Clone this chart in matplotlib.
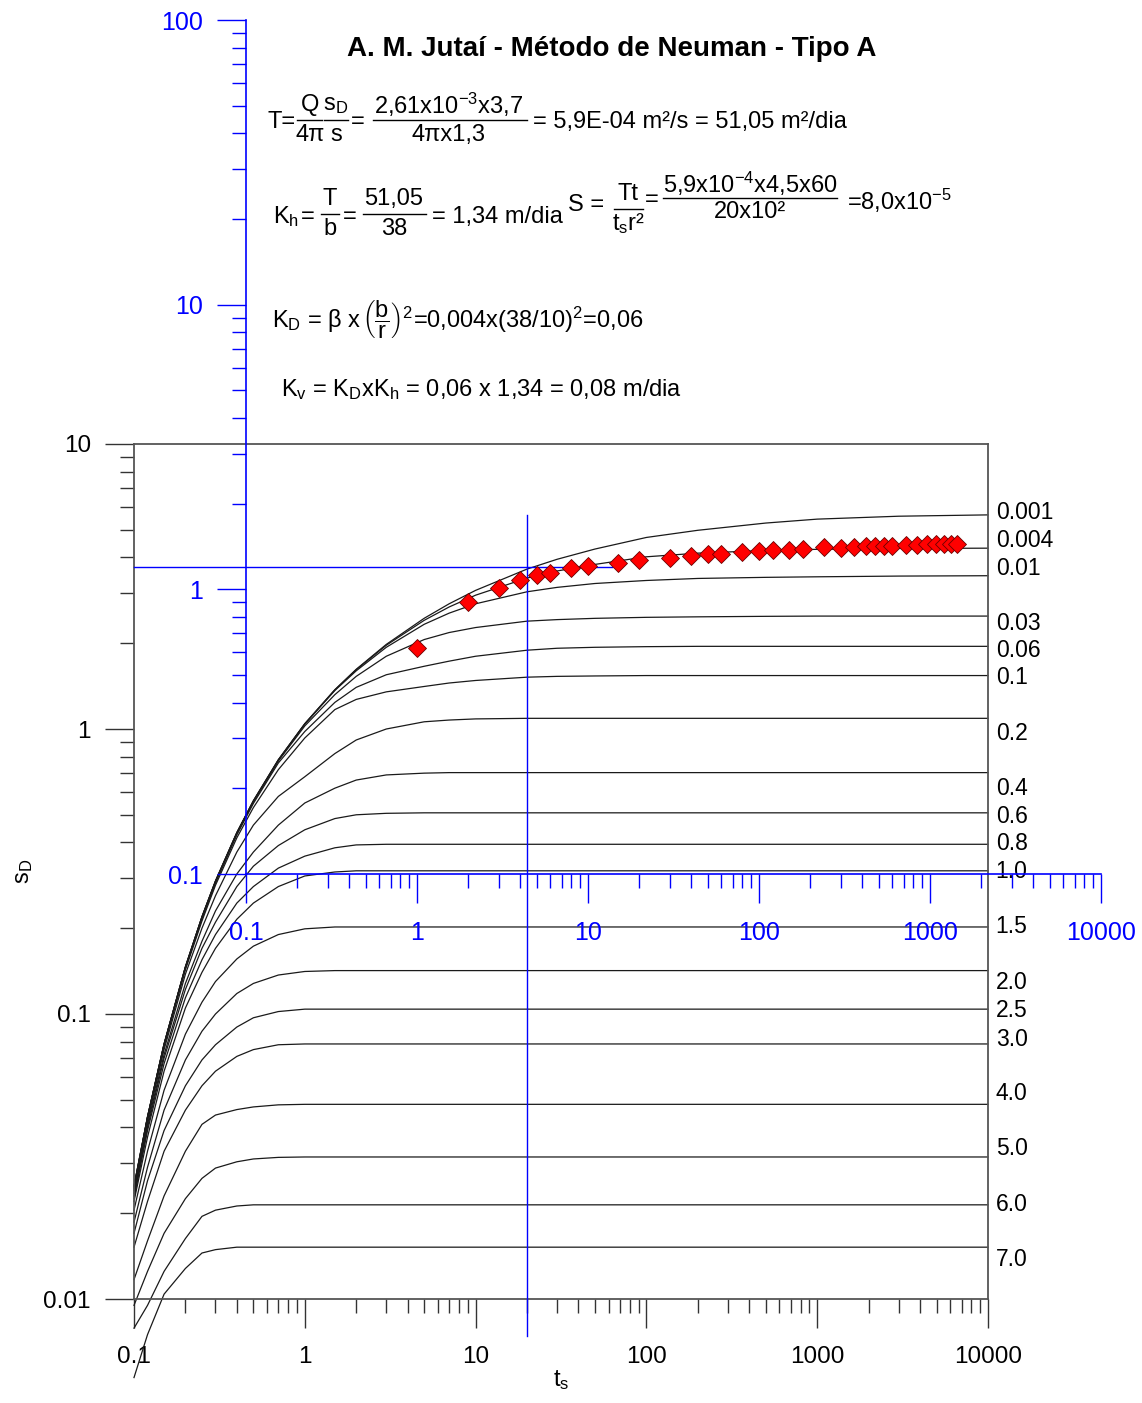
import matplotlib
matplotlib.use("Agg")
import matplotlib.pyplot as plt
from matplotlib.ticker import LogLocator, FuncFormatter, NullFormatter

plt.rcParams['font.family'] = ['Liberation Sans', 'DejaVu Sans']
plt.rcParams['mathtext.fontset'] = 'custom'
plt.rcParams['mathtext.rm'] = 'Liberation Sans'
plt.rcParams['mathtext.it'] = 'Liberation Sans:italic'
plt.rcParams['mathtext.sf'] = 'Liberation Sans'

W, H = 1142, 1403

# Neuman type A curves: dimensionless drawdown sD against ts for each beta
ts_grid = [0.1, 0.12, 0.15, 0.2, 0.25, 0.3, 0.4, 0.5, 0.7, 1, 1.5, 2, 3, 5, 7, 10,
           20, 30, 50, 100, 200, 500, 1000, 3000, 10000]
beta_labels = ['0.001', '0.004', '0.01', '0.03', '0.06', '0.1', '0.2', '0.4', '0.6',
               '0.8', '1.0', '1.5', '2.0', '2.5', '3.0', '4.0', '5.0', '6.0', '7.0']
sd_curves = [
    [0.0249, 0.0436, 0.0785, 0.1464, 0.2194, 0.293, 0.433, 0.56, 0.78, 1.044, 1.374, 1.62, 1.981,
     2.446, 2.75, 3.065, 3.64, 3.94, 4.28, 4.70, 4.98, 5.28, 5.45, 5.58, 5.64],
    [0.0249, 0.0436, 0.0785, 0.1464, 0.2194, 0.293, 0.433, 0.56, 0.78, 1.043, 1.372, 1.615, 1.967,
     2.406, 2.68, 2.948, 3.386, 3.585, 3.78, 4.02, 4.14, 4.23, 4.27, 4.30, 4.31],
    [0.0248, 0.0435, 0.0784, 0.1462, 0.219, 0.292, 0.432, 0.558, 0.777, 1.04, 1.365, 1.60, 1.935,
     2.33, 2.55, 2.75, 3.03, 3.14, 3.24, 3.32, 3.375, 3.405, 3.42, 3.44, 3.45],
    [0.0247, 0.0435, 0.0782, 0.1458, 0.218, 0.291, 0.43, 0.555, 0.772, 1.025, 1.32, 1.53, 1.80,
     2.06, 2.18, 2.27, 2.39, 2.42, 2.445, 2.465, 2.475, 2.485, 2.49, 2.49, 2.49],
    [0.0245, 0.0433, 0.078, 0.145, 0.216, 0.288, 0.425, 0.548, 0.76, 0.98, 1.24, 1.40, 1.55,
     1.66, 1.73, 1.80, 1.89, 1.92, 1.935, 1.945, 1.95, 1.95, 1.95, 1.95, 1.95],
    [0.0243, 0.043, 0.077, 0.143, 0.212, 0.283, 0.415, 0.53, 0.72, 0.93, 1.17, 1.27, 1.35,
     1.41, 1.45, 1.48, 1.52, 1.53, 1.535, 1.54, 1.54, 1.54, 1.54, 1.54, 1.54],
    [0.024, 0.042, 0.075, 0.138, 0.2, 0.26, 0.37, 0.46, 0.58, 0.68, 0.82, 0.915, 1.0,
     1.06, 1.075, 1.085, 1.09, 1.09, 1.09, 1.09, 1.09, 1.09, 1.09, 1.09, 1.09],
    [0.0235, 0.041, 0.072, 0.128, 0.18, 0.23, 0.31, 0.37, 0.46, 0.55, 0.62, 0.662, 0.69,
     0.70, 0.703, 0.703, 0.703, 0.703, 0.703, 0.703, 0.703, 0.703, 0.703, 0.703, 0.703],
    [0.023, 0.040, 0.070, 0.122, 0.17, 0.21, 0.28, 0.33, 0.39, 0.443, 0.485, 0.50, 0.506,
     0.508, 0.508, 0.508, 0.508, 0.508, 0.508, 0.508, 0.508, 0.508, 0.508, 0.508, 0.508],
    [0.0225, 0.039, 0.067, 0.114, 0.155, 0.19, 0.245, 0.28, 0.325, 0.358, 0.383, 0.392, 0.394,
     0.394, 0.394, 0.394, 0.394, 0.394, 0.394, 0.394, 0.394, 0.394, 0.394, 0.394, 0.394],
    [0.022, 0.037, 0.063, 0.105, 0.14, 0.17, 0.215, 0.245, 0.28, 0.305, 0.315, 0.318, 0.318,
     0.318, 0.318, 0.318, 0.318, 0.318, 0.318, 0.318, 0.318, 0.318, 0.318, 0.318, 0.318],
    [0.0205, 0.033, 0.054, 0.085, 0.11, 0.13, 0.156, 0.173, 0.19, 0.199, 0.202, 0.202, 0.202,
     0.202, 0.202, 0.202, 0.202, 0.202, 0.202, 0.202, 0.202, 0.202, 0.202, 0.202, 0.202],
    [0.0186, 0.029, 0.046, 0.069, 0.087, 0.100, 0.118, 0.128, 0.137, 0.141, 0.142, 0.142, 0.142,
     0.142, 0.142, 0.142, 0.142, 0.142, 0.142, 0.142, 0.142, 0.142, 0.142, 0.142, 0.142],
    [0.017, 0.026, 0.039, 0.056, 0.069, 0.078, 0.090, 0.097, 0.102, 0.104, 0.104, 0.104, 0.104,
     0.104, 0.104, 0.104, 0.104, 0.104, 0.104, 0.104, 0.104, 0.104, 0.104, 0.104, 0.104],
    [0.0152, 0.022, 0.033, 0.046, 0.056, 0.063, 0.071, 0.075, 0.078, 0.0785, 0.0785, 0.0785, 0.0785,
     0.0785, 0.0785, 0.0785, 0.0785, 0.0785, 0.0785, 0.0785, 0.0785, 0.0785, 0.0785, 0.0785, 0.0785],
    [0.0117, 0.016, 0.023, 0.033, 0.041, 0.0442, 0.0462, 0.0472, 0.048, 0.0482, 0.0482, 0.0482, 0.0482,
     0.0482, 0.0482, 0.0482, 0.0482, 0.0482, 0.0482, 0.0482, 0.0482, 0.0482, 0.0482, 0.0482, 0.0482],
    [0.0095, 0.0125, 0.017, 0.0225, 0.0265, 0.0288, 0.0303, 0.031, 0.0314, 0.0315, 0.0315, 0.0315, 0.0315,
     0.0315, 0.0315, 0.0315, 0.0315, 0.0315, 0.0315, 0.0315, 0.0315, 0.0315, 0.0315, 0.0315, 0.0315],
    [0.0079, 0.0095, 0.0125, 0.0163, 0.0195, 0.0205, 0.0212, 0.0214, 0.0214, 0.0214, 0.0214, 0.0214, 0.0214,
     0.0214, 0.0214, 0.0214, 0.0214, 0.0214, 0.0214, 0.0214, 0.0214, 0.0214, 0.0214, 0.0214, 0.0214],
    [0.0053, 0.0075, 0.0104, 0.0128, 0.0145, 0.0149, 0.0152, 0.0152, 0.0152, 0.0152, 0.0152, 0.0152, 0.0152,
     0.0152, 0.0152, 0.0152, 0.0152, 0.0152, 0.0152, 0.0152, 0.0152, 0.0152, 0.0152, 0.0152, 0.0152],
]
# where each beta label sits on the right-hand side (sD units)
label_sd = [5.73, 4.57, 3.67, 2.34, 1.88, 1.51, 0.968, 0.616, 0.495, 0.395, 0.315,
            0.202, 0.1294, 0.1032, 0.0817, 0.0528, 0.0336, 0.0215, 0.0138]

# field data: time (min) and drawdown (m)
t_min = [1, 2, 3, 4, 5, 6, 8, 10, 15, 20, 30, 40, 50, 60, 80, 100, 120, 150, 180, 240,
         300, 360, 420, 480, 540, 600, 720, 840, 960, 1080, 1200, 1320, 1440]
s_m = [0.62, 0.90, 1.01, 1.08, 1.12, 1.14, 1.19, 1.21, 1.24, 1.27, 1.29, 1.31, 1.33, 1.33,
       1.35, 1.36, 1.38, 1.38, 1.39, 1.41, 1.40, 1.41, 1.42, 1.42, 1.42, 1.42, 1.43, 1.43,
       1.44, 1.44, 1.44, 1.44, 1.44]

# match point
match_ts, match_sd = 20, 3.7

BLUE = '#0000ff'
FS = 17


def fx(x):
    return x / W


def fy(y):
    return 1 - y / H


def txt(x, y, s, **kw):
    kw.setdefault('fontsize', FS)
    kw.setdefault('va', 'center')
    fig.text(fx(x), fy(y), s, **kw)


def frac(xc, yb, num, den, x0, x1, dy=15):
    txt(xc, yb - dy, num, ha='center')
    txt(xc, yb + dy, den, ha='center')
    fig.add_artist(plt.Line2D([fx(x0), fx(x1)], [fy(yb), fy(yb)], color='black', lw=1.0))


def log_fmt(v, pos):
    return f'{v:g}'


def log_ticks(axis):
    axis.set_major_locator(LogLocator(base=10, numticks=10))
    axis.set_minor_locator(LogLocator(base=10, subs=range(2, 10), numticks=10))
    axis.set_major_formatter(FuncFormatter(log_fmt))
    axis.set_minor_formatter(NullFormatter())


fig = plt.figure(figsize=(W / 100, H / 100), dpi=100)

# main type-curve axes
ax = fig.add_axes([fx(134), fy(1299), (988 - 134) / W, (1299 - 444) / H])
ax.set_xscale('log')
ax.set_yscale('log')
ax.set_xlim(0.1, 10000)
ax.set_ylim(0.01, 10)

for vals in sd_curves:
    ax.plot(ts_grid, vals, color='#1a1a1a', lw=0.9, clip_on=False, zorder=2)

for lab, ys in zip(beta_labels, label_sd):
    ax.text(1.009, ys, lab, transform=ax.get_yaxis_transform(), fontsize=16.5,
            ha='left', va='center')

for sp in ax.spines.values():
    sp.set_color('#555555')
    sp.set_linewidth(1.3)

log_ticks(ax.xaxis)
log_ticks(ax.yaxis)
ax.tick_params(which='major', direction='out', length=21, width=1, color='#333333',
               labelsize=17.5)
ax.tick_params(which='minor', direction='out', length=10, width=1, color='#333333')
ax.tick_params(axis='x', which='major', pad=13)
ax.tick_params(axis='y', which='major', pad=10)
ax.set_xlabel('t$_\\mathrm{s}$', fontsize=FS, labelpad=0)
ax.set_ylabel('s$_\\mathrm{D}$', fontsize=FS, labelpad=6)

# match point cross
ax.plot([match_ts, match_ts], [0.0074, 5.64], color=BLUE, lw=1.0, clip_on=False, zorder=3)
ax.plot([0.1, 63], [match_sd, match_sd], color=BLUE, lw=1.0, clip_on=False, zorder=3)

# field data axes (t in min, s in m)
ax2 = fig.add_axes([fx(246), fy(874), (1101 - 246) / W, (874 - 20) / H])
ax2.patch.set_visible(False)
ax2.set_xscale('log')
ax2.set_yscale('log')
ax2.set_xlim(0.1, 10000)
ax2.set_ylim(0.1, 100)
for side in ('top', 'right'):
    ax2.spines[side].set_visible(False)
for side in ('left', 'bottom'):
    ax2.spines[side].set_color(BLUE)
    ax2.spines[side].set_linewidth(1.2)
log_ticks(ax2.xaxis)
log_ticks(ax2.yaxis)
ax2.tick_params(which='major', direction='out', length=21, width=1, color=BLUE,
                labelcolor=BLUE, labelsize=18)
ax2.tick_params(which='minor', direction='out', length=10, width=1, color=BLUE)
ax2.tick_params(axis='x', which='major', pad=13)
ax2.tick_params(axis='y', which='major', pad=10)

ax2.plot(t_min, s_m, linestyle='none', marker='D', ms=9.5, mfc='red',
         mec='#6a0000', mew=0.6, zorder=5)

# title and calculations
txt(612, 49, 'A. M. Jutaí - Método de Neuman - Tipo A', fontsize=20, weight='bold', ha='center')

txt(268, 122, 'T=', ha='left')
frac(310, 120, 'Q', '4π', 297, 322)
frac(336, 120, 's$_\\mathrm{D}$', 's', 324, 348)
txt(351, 122, '=', ha='left')
frac(449, 120, '2,61x10$^{-3}$x3,7', '4πx1,3', 373, 527)
txt(533, 122, '= 5,9E-04 m²/s = 51,05 m²/dia', ha='left')

txt(273, 217, 'K$_\\mathrm{h}$', ha='left')
txt(301, 217, '=', ha='left')
frac(330, 214, 'T', 'b', 321, 339)
txt(343, 217, '=', ha='left')
frac(394, 214, '51,05', '38', 363, 426)
txt(432, 217, '= 1,34 m/dia', ha='left')
txt(568, 205, 'S =', ha='left')
frac(628, 209, 'Tt', 't$_\\mathrm{s}$r²', 614, 643)
txt(645, 200, '=', ha='left')
frac(750, 198, '5,9x10$^{-4}$x4,5x60', '20x10²', 663, 837, dy=14)
txt(847, 201, '=8,0x10$^{-5}$', ha='left')

txt(272, 320, 'K$_\\mathrm{D}$ = β x', ha='left')
txt(362, 320, '$\\left(\\dfrac{\\mathrm{b}}{\\mathrm{r}}\\right)^{2}$', ha='left')
txt(413, 320, '=0,004x(38/10)$^{2}$=0,06', ha='left')
txt(281, 390, 'K$_\\mathrm{v}$ = K$_\\mathrm{D}$xK$_\\mathrm{h}$ = 0,06 x 1,34 = 0,08 m/dia', ha='left')

fig.savefig('out.png', dpi=100)
